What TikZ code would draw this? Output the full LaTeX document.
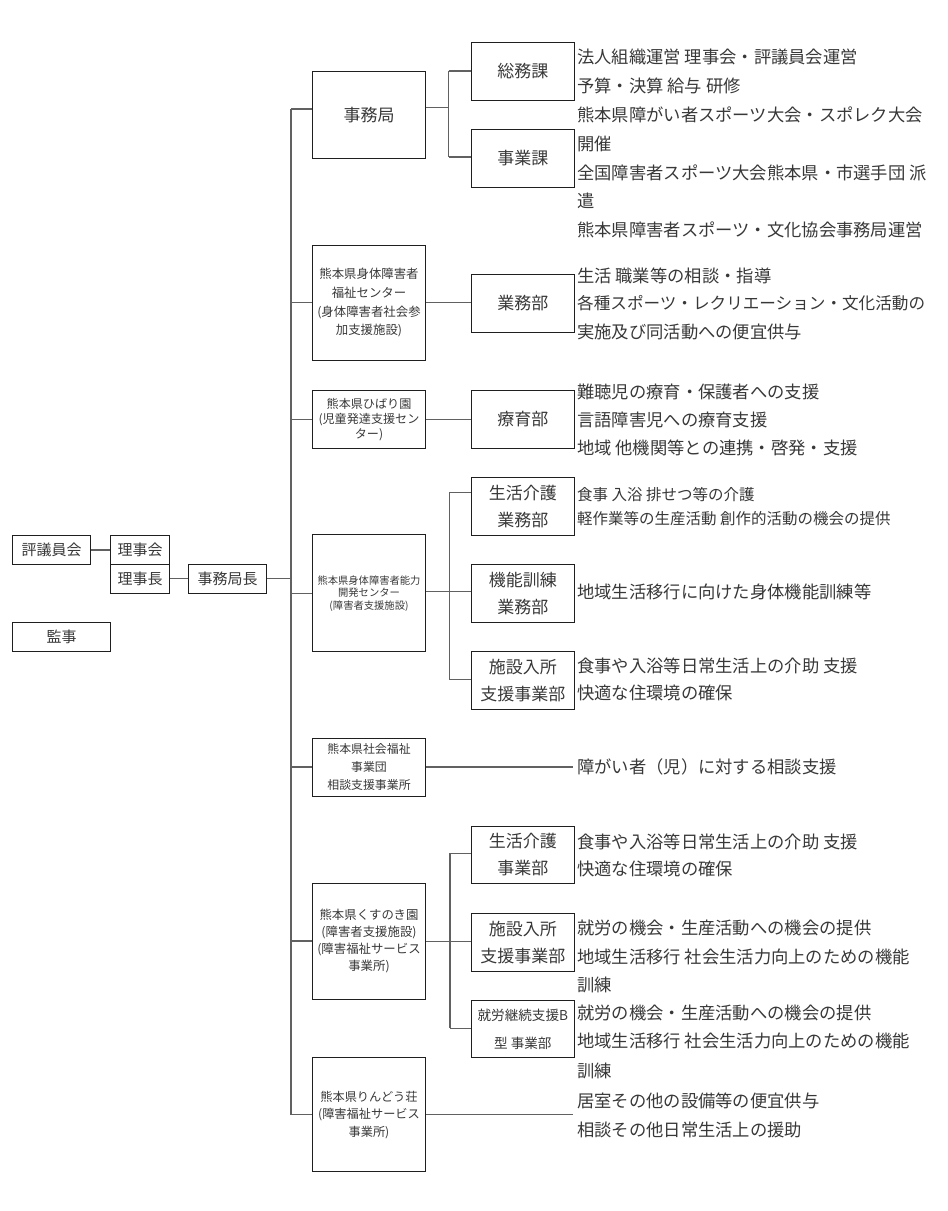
\documentclass[tikz,border=0pt]{standalone}
\usepackage{fontspec}
\setmainfont{Noto Sans CJK JP}
\begin{document}
\begin{tikzpicture}[x=1pt,y=-1pt,
  box/.style={draw=black!88, line width=1pt, inner sep=0pt, align=center, text=black!78},
  conn/.style={draw=black!62, line width=1.2pt},
  desc/.style={anchor=west, inner sep=0pt, text=black!78, font=\fontsize{17.3}{20}\selectfont, text height=14.5pt, text depth=1.4pt},
  descs/.style={desc, font=\fontsize{15.5}{18}\selectfont, text height=13pt, text depth=1.2pt},
  descn/.style={desc, font=\fontsize{16.6}{20}\selectfont, text height=14pt, text depth=1.3pt},
  lbox/.style={box, font=\fontsize{15}{18}\selectfont},
  mbox/.style={box, minimum width=113.4pt},
  sbox/.style={box, minimum width=102.3pt, font=\fontsize{17}{26.7}\selectfont},
]
\useasboundingbox (0,0) rectangle (948,1211);

% left column
\node[lbox, minimum width=78pt, minimum height=28.6pt] (hyogi) at (51.7,550) {評議員会};
\node[lbox, minimum width=58.6pt, minimum height=28.6pt] (rijikai) at (140,550) {理事会};
\node[lbox, minimum width=58.6pt, minimum height=29pt] (rijicho) at (140,578.8) {理事長};
\node[lbox, minimum width=78.4pt, minimum height=29pt] (kyokucho) at (227.5,578.8) {事務局長};
\node[lbox, minimum width=97.6pt, minimum height=29pt] (kanji) at (61.5,637.2) {監事};

% second column
\node[mbox, minimum height=87pt, font=\fontsize{17}{20}\selectfont] (jimukyoku) at (369,114.8) {事務局};
\node[mbox, minimum height=115.7pt, font=\fontsize{12.4}{18.6}\selectfont] (shintai) at (369,302.85) {熊本県身体障害者\\福祉センター\\(身体障害者社会参\\加支援施設)};
\node[mbox, minimum height=57.6pt, font=\fontsize{12.1}{15.3}\selectfont] (hibari) at (369,419.5) {熊本県ひばり園\\(児童発達支援セン\\ター)};
\node[mbox, minimum height=116.7pt, font=\fontsize{10.3}{12.4}\selectfont] (noryoku) at (369,593.3) {熊本県身体障害者能力\\開発センター\\(障害者支援施設)};
\node[mbox, minimum height=58pt, font=\fontsize{11.9}{18.3}\selectfont] (jigyodan) at (369,767) {熊本県社会福祉\\事業団\\相談支援事業所};
\node[mbox, minimum height=116pt, font=\fontsize{12.4}{16.7}\selectfont] (kusunoki) at (369,941) {熊本県くすのき園\\(障害者支援施設)\\(障害福祉サービス\\事業所)};
\node[mbox, minimum height=114pt, font=\fontsize{12.2}{17.5}\selectfont] (rindou) at (369,1114.7) {熊本県りんどう荘\\(障害福祉サービス\\事業所)};

% third column
\node[sbox, minimum height=57.6pt] (somu) at (522.85,71.5) {総務課};
\node[sbox, minimum height=58pt] (jigyoka) at (522.85,158.3) {事業課};
\node[sbox, minimum height=58.4pt] (gyomu) at (522.85,303.5) {業務部};
\node[sbox, minimum height=57.6pt] (ryoiku) at (522.85,419.5) {療育部};
\node[sbox, minimum height=57.7pt] (seikatsuA) at (522.85,506.2) {生活介護\\業務部};
\node[sbox, minimum height=58.4pt] (kino) at (522.85,593.5) {機能訓練\\業務部};
\node[sbox, minimum height=57.6pt] (shisetsuA) at (522.85,680.5) {施設入所\\支援事業部};
\node[sbox, minimum height=57.3pt] (seikatsuB) at (522.85,854.7) {生活介護\\事業部};
\node[sbox, minimum height=57.7pt] (shisetsuB) at (522.85,942.2) {施設入所\\支援事業部};
\node[sbox, minimum height=57pt, font=\fontsize{13.6}{27.3}\selectfont] (shuro) at (522.85,1029.2) {就労継続支援B\\型 事業部};

% left connectors
\draw[conn] (hyogi.east) -- (rijikai.west);
\draw[conn] (rijicho.east) -- (kyokucho.west);
\coordinate (tt) at (291,109);
\coordinate (tb) at (291,1115);
\draw[conn] (kyokucho.east) -- (kyokucho.east -| tt);
\draw[conn] (tt) -- (tb);
\draw[conn] (tt) -- (jimukyoku.west |- tt);
\draw[conn] (shintai.west -| tt) -- (shintai.west);
\draw[conn] (hibari.west -| tt) -- (hibari.west);
\draw[conn] (noryoku.west -| tt) -- (noryoku.west);
\draw[conn] (jigyodan.west -| tt) -- (jigyodan.west);
\draw[conn] (kusunoki.west -| tt) -- (kusunoki.west);
\draw[conn] (rindou.west -| tt) -- (rindou.west);

% jimukyoku bracket
\coordinate (b1t) at (448.5,71);
\coordinate (b1m) at (448.5,107.5);
\coordinate (b1b) at (448.5,157);
\draw[conn] (b1t) -- (b1b);
\draw[conn] (jimukyoku.east |- b1m) -- (b1m);
\draw[conn] (b1t) -- (somu.west |- b1t);
\draw[conn] (b1b) -- (jigyoka.west |- b1b);

\draw[conn] (shintai.east) -- (gyomu.west |- shintai.east);
\draw[conn] (hibari.east) -- (ryoiku.west);

% noryoku bracket
\coordinate (b2t) at (449.3,492.7);
\coordinate (b2m) at (449.3,591.7);
\coordinate (b2b) at (449.3,679.5);
\draw[conn] (b2t) -- (b2b);
\draw[conn] (noryoku.east |- b2m) -- (kino.west |- b2m);
\draw[conn] (b2t) -- (seikatsuA.west |- b2t);
\draw[conn] (b2b) -- (shisetsuA.west |- b2b);

% kusunoki bracket
\coordinate (b3t) at (450,853.3);
\coordinate (b3m) at (450,941.7);
\coordinate (b3b) at (450,1028.3);
\draw[conn] (b3t) -- (b3b);
\draw[conn] (kusunoki.east |- b3m) -- (shisetsuB.west |- b3m);
\draw[conn] (b3t) -- (seikatsuB.west |- b3t);
\draw[conn] (b3b) -- (shuro.west |- b3b);

\coordinate (e1) at (573.3,767);
\coordinate (e2) at (573.3,1115);
\draw[conn] (jigyodan.east) -- (jigyodan.east -| e1);
\draw[conn] (rindou.east) -- (rindou.east -| e2);

% descriptions
\node[desc] (d1) at (577,57) {法人組織運営 理事会・評議員会運営};
\node[desc] (d2) at (577,85.6) {予算・決算 給与 研修};
\node[desc] (d3) at (577,114.5) {熊本県障がい者スポーツ大会・スポレク大会};
\node[desc] (d4) at (577,143.5) {開催};
\node[desc] (d5) at (577,172.5) {全国障害者スポーツ大会熊本県・市選手団 派};
\node[desc] (d6) at (577,201) {遣};
\node[desc] (d7) at (577,229.5) {熊本県障害者スポーツ・文化協会事務局運営};
\node[desc] (d8) at (577,276) {生活 職業等の相談・指導};
\node[descn] (d9) at (577,303.5) {各種スポーツ・レクリエーション・文化活動の};
\node[desc] (d10) at (577,331.5) {実施及び同活動への便宜供与};
\node[desc] (d11) at (577,391.7) {難聴児の療育・保護者への支援};
\node[desc] (d12) at (577,420) {言語障害児への療育支援};
\node[desc] (d13) at (577,448.3) {地域 他機関等との連携・啓発・支援};
\node[descs] (d14) at (577,495) {食事 入浴 排せつ等の介護};
\node[descs] (d15) at (577,518.3) {軽作業等の生産活動 創作的活動の機会の提供};
\node[desc] (d16) at (577,591.7) {地域生活移行に向けた身体機能訓練等};
\node[desc] (d17) at (577,666) {食事や入浴等日常生活上の介助 支援};
\node[desc] (d18) at (577,693.3) {快適な住環境の確保};
\node[desc] (d19) at (577,767) {障がい者（児）に対する相談支援};
\node[desc] (d20) at (577,842) {食事や入浴等日常生活上の介助 支援};
\node[desc] (d21) at (577,869) {快適な住環境の確保};
\node[desc] (d22) at (577,928) {就労の機会・生産活動への機会の提供};
\node[desc] (d23) at (577,956.5) {地域生活移行 社会生活力向上のための機能};
\node[desc] (d24) at (577,985) {訓練};
\node[desc] (d25) at (577,1012.5) {就労の機会・生産活動への機会の提供};
\node[desc] (d26) at (577,1041) {地域生活移行 社会生活力向上のための機能};
\node[desc] (d27) at (577,1071) {訓練};
\node[desc] (d28) at (577,1101) {居室その他の設備等の便宜供与};
\node[desc] (d29) at (577,1129.5) {相談その他日常生活上の援助};
\end{tikzpicture}
\end{document}
